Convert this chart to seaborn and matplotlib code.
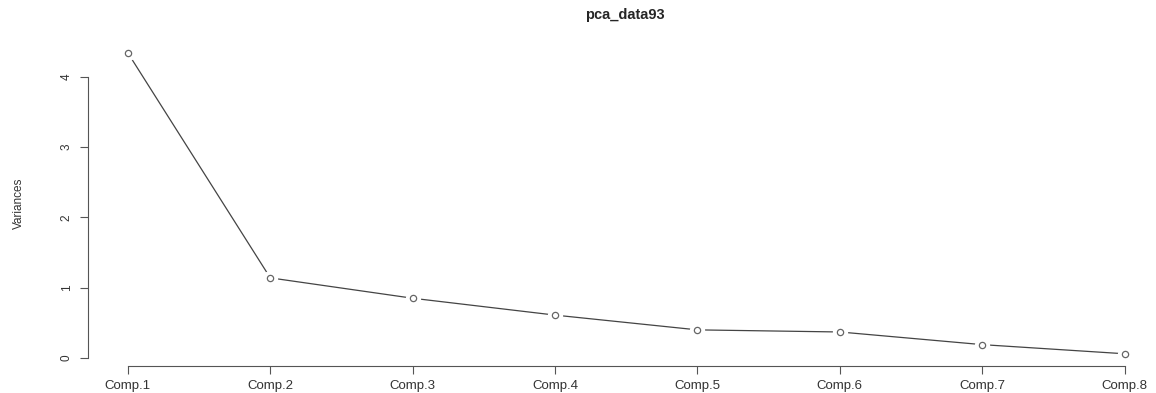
import matplotlib
matplotlib.use("Agg")
import matplotlib.pyplot as plt
import seaborn as sns
import pandas as pd

components = ["Comp.1", "Comp.2", "Comp.3", "Comp.4", "Comp.5", "Comp.6", "Comp.7", "Comp.8"]
variances = [4.34, 1.14, 0.85, 0.61, 0.40, 0.37, 0.19, 0.06]
y_ticks = [0, 1, 2, 3, 4]
title = "pca_data93"

sns.set_style("white")
plt.rcParams["font.family"] = ["Liberation Sans", "DejaVu Sans"]

W, H = 1156, 393
fig = plt.figure(figsize=(W / 100, H / 100), dpi=100)
left_px, right_px, top_px, bot_px = 88, 1156, 41, 366
ax = fig.add_axes([left_px / W, 1 - bot_px / H, (right_px - left_px) / W, (bot_px - top_px) / H])

pos = list(range(1, len(components) + 1))
df = pd.DataFrame({"pos": pos, "var": variances})

sns.lineplot(data=df, x="pos", y="var", ax=ax, color="#444444", linewidth=0.9, zorder=1)
ax.plot(df["pos"], df["var"], linestyle="none", marker="o", markersize=10,
        markerfacecolor="white", markeredgecolor="white", zorder=2)
ax.plot(df["pos"], df["var"], linestyle="none", marker="o", markersize=4.5,
        markerfacecolor="white", markeredgecolor="#666666", markeredgewidth=0.9, zorder=3)

ax.set_xlim(0.72, 8.22)
ax.set_ylim(-0.114, 4.51)

ax.set_xticks(pos)
ax.set_xticklabels(components, fontsize=9.5, color="#333333")
ax.set_yticks(y_ticks)
ax.set_yticklabels([str(t) for t in y_ticks], fontsize=8.5, rotation=90, va="center", color="#333333")
ax.tick_params(axis="both", which="both", direction="out", length=6, width=0.8, color="#555555",
               bottom=True, left=True, pad=5)
ax.tick_params(axis="x", pad=4)

for s in ["top", "right"]:
    ax.spines[s].set_visible(False)
ax.spines["left"].set_bounds(0, 4)
ax.spines["bottom"].set_bounds(1, 8)
for s in ["left", "bottom"]:
    ax.spines[s].set_color("#555555")
    ax.spines[s].set_linewidth(0.8)

ax.set_xlabel("")
ax.set_ylabel("Variances", fontsize=8.5, color="#333333", labelpad=26)
fig.text(625 / W, 1 - 15 / H, title, ha="center", va="center", fontsize=10.5, fontweight="bold")

fig.savefig("out.png", dpi=100, facecolor="white")
